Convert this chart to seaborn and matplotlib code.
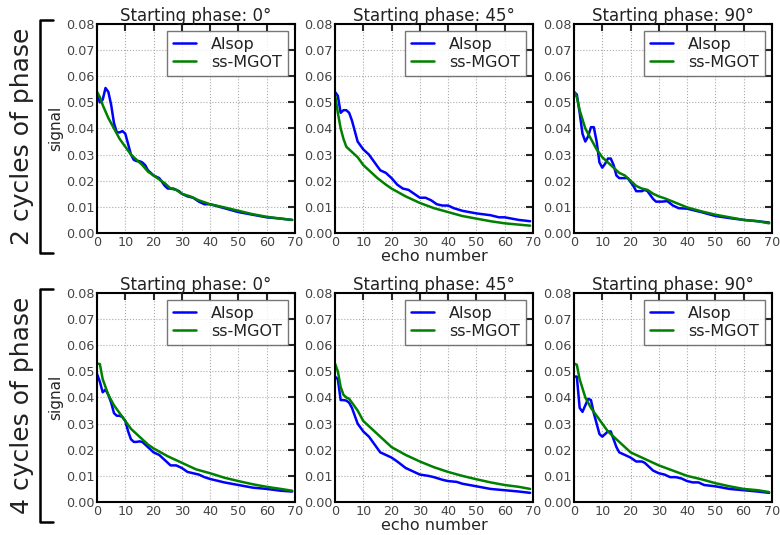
import numpy as np
import pandas as pd
import seaborn as sns
import matplotlib.pyplot as plt
from matplotlib.lines import Line2D

# donnees (echo, signal)
# 2 cycles, phase 0
c2_p0_alsop_x = [0, 1, 2, 3, 4, 5, 6, 7, 8, 9, 10, 11, 12, 13, 14, 15, 16, 17, 18, 20, 22, 24, 25, 27, 29, 30, 32, 34, 36, 38, 40, 45, 50, 55, 60, 65, 69]
c2_p0_alsop_y = [0.053, 0.050, 0.051, 0.0555, 0.054, 0.049, 0.042, 0.0385, 0.0385, 0.039, 0.038, 0.034, 0.030, 0.028, 0.0275, 0.0275, 0.027, 0.026, 0.024, 0.022, 0.021, 0.018, 0.017, 0.017, 0.016, 0.015, 0.014, 0.0135, 0.012, 0.011, 0.011, 0.0095, 0.008, 0.007, 0.006, 0.0055, 0.005]
c2_p0_mgot_x = [0, 1, 2, 4, 6, 8, 10, 12, 14, 16, 18, 20, 22, 24, 26, 28, 30, 33, 36, 40, 45, 50, 55, 60, 65, 69]
c2_p0_mgot_y = [0.054, 0.052, 0.049, 0.044, 0.040, 0.036, 0.033, 0.030, 0.028, 0.026, 0.0235, 0.022, 0.0205, 0.019, 0.017, 0.0165, 0.015, 0.014, 0.0125, 0.011, 0.0098, 0.0085, 0.0072, 0.0062, 0.0055, 0.005]

# 2 cycles, phase 45
c2_p45_alsop_x = [0, 1, 2, 3, 4, 5, 6, 7, 8, 10, 12, 14, 16, 18, 20, 22, 24, 26, 28, 30, 32, 34, 36, 38, 40, 42, 45, 50, 55, 58, 60, 65, 69]
c2_p45_alsop_y = [0.054, 0.0525, 0.046, 0.047, 0.047, 0.046, 0.043, 0.039, 0.035, 0.032, 0.030, 0.027, 0.024, 0.023, 0.021, 0.0185, 0.017, 0.0165, 0.015, 0.0135, 0.0135, 0.0125, 0.011, 0.0105, 0.0105, 0.0095, 0.0085, 0.0075, 0.0068, 0.006, 0.006, 0.005, 0.0045]
c2_p45_mgot_x = [0, 1, 2, 3, 4, 6, 8, 10, 12, 15, 18, 20, 25, 30, 35, 40, 45, 50, 55, 60, 65, 69]
c2_p45_mgot_y = [0.053, 0.046, 0.040, 0.036, 0.033, 0.031, 0.029, 0.026, 0.024, 0.021, 0.0185, 0.017, 0.014, 0.0115, 0.0095, 0.008, 0.0065, 0.0055, 0.0045, 0.0037, 0.0032, 0.0028]

# 2 cycles, phase 90
c2_p90_alsop_x = [0, 1, 2, 3, 4, 5, 6, 7, 8, 9, 10, 11, 12, 13, 14, 15, 16, 18, 19, 21, 22, 24, 25, 26, 28, 29, 31, 33, 35, 37, 40, 45, 50, 55, 60, 65, 69]
c2_p90_alsop_y = [0.054, 0.053, 0.046, 0.038, 0.035, 0.037, 0.0405, 0.0405, 0.035, 0.027, 0.025, 0.0265, 0.0285, 0.0285, 0.026, 0.022, 0.021, 0.021, 0.021, 0.018, 0.016, 0.016, 0.0165, 0.016, 0.013, 0.012, 0.012, 0.0122, 0.0105, 0.0095, 0.0093, 0.008, 0.0065, 0.0057, 0.005, 0.0045, 0.004]
c2_p90_mgot_x = [0, 1, 2, 4, 6, 8, 10, 12, 14, 16, 18, 20, 22, 24, 26, 28, 30, 32, 35, 40, 45, 50, 55, 60, 65, 69]
c2_p90_mgot_y = [0.054, 0.052, 0.047, 0.040, 0.036, 0.032, 0.029, 0.027, 0.025, 0.023, 0.022, 0.020, 0.018, 0.017, 0.0165, 0.015, 0.014, 0.0133, 0.012, 0.0098, 0.0083, 0.007, 0.006, 0.005, 0.0045, 0.0037]

# 4 cycles, phase 0
c4_p0_alsop_x = [0, 1, 2, 3, 4, 5, 6, 7, 8, 9, 10, 11, 12, 13, 14, 15, 16, 18, 20, 22, 24, 26, 28, 30, 32, 34, 36, 38, 40, 45, 50, 55, 60, 65, 69]
c4_p0_alsop_y = [0.049, 0.046, 0.042, 0.043, 0.041, 0.038, 0.034, 0.033, 0.033, 0.0325, 0.031, 0.027, 0.024, 0.023, 0.023, 0.0232, 0.023, 0.021, 0.019, 0.018, 0.016, 0.014, 0.014, 0.013, 0.0115, 0.011, 0.0105, 0.0095, 0.0088, 0.0075, 0.0065, 0.0055, 0.005, 0.0043, 0.004]
c4_p0_mgot_x = [0, 1, 2, 4, 6, 8, 10, 12, 15, 18, 20, 25, 30, 35, 40, 45, 50, 55, 60, 65, 69]
c4_p0_mgot_y = [0.053, 0.0528, 0.047, 0.041, 0.037, 0.034, 0.031, 0.028, 0.025, 0.022, 0.0205, 0.0175, 0.015, 0.0125, 0.011, 0.0093, 0.008, 0.0068, 0.0058, 0.005, 0.0043]

# 4 cycles, phase 45
c4_p45_alsop_x = [0, 1, 2, 3, 4, 5, 6, 7, 8, 10, 12, 14, 16, 18, 20, 22, 25, 28, 30, 33, 35, 38, 40, 43, 45, 50, 55, 60, 65, 69]
c4_p45_alsop_y = [0.048, 0.047, 0.039, 0.039, 0.0388, 0.038, 0.036, 0.033, 0.030, 0.027, 0.025, 0.022, 0.019, 0.018, 0.017, 0.0155, 0.013, 0.0115, 0.0105, 0.010, 0.0095, 0.0085, 0.008, 0.0077, 0.007, 0.006, 0.005, 0.0045, 0.004, 0.0035]
c4_p45_mgot_x = [0, 1, 2, 3, 4, 5, 6, 8, 10, 12, 15, 18, 20, 25, 30, 35, 40, 45, 50, 55, 60, 65, 69]
c4_p45_mgot_y = [0.053, 0.050, 0.044, 0.041, 0.040, 0.0395, 0.038, 0.035, 0.031, 0.029, 0.026, 0.023, 0.021, 0.018, 0.0155, 0.0133, 0.0115, 0.010, 0.0087, 0.0075, 0.0065, 0.0058, 0.005]

# 4 cycles, phase 90
c4_p90_alsop_x = [0, 1, 2, 3, 4, 5, 6, 7, 8, 9, 10, 11, 12, 13, 14, 15, 16, 18, 20, 22, 24, 25, 27, 28, 30, 32, 34, 36, 38, 40, 42, 44, 46, 50, 55, 60, 65, 69]
c4_p90_alsop_y = [0.048, 0.048, 0.036, 0.0345, 0.037, 0.0395, 0.039, 0.034, 0.030, 0.026, 0.025, 0.026, 0.027, 0.027, 0.024, 0.021, 0.019, 0.018, 0.017, 0.0155, 0.0155, 0.015, 0.013, 0.012, 0.011, 0.0105, 0.0095, 0.0095, 0.009, 0.008, 0.0075, 0.0075, 0.0065, 0.006, 0.005, 0.0045, 0.004, 0.0035]
c4_p90_mgot_x = [0, 1, 2, 4, 6, 8, 10, 12, 15, 18, 20, 25, 30, 35, 40, 45, 50, 55, 60, 65, 69]
c4_p90_mgot_y = [0.053, 0.0525, 0.047, 0.040, 0.036, 0.033, 0.030, 0.027, 0.024, 0.021, 0.019, 0.0165, 0.014, 0.012, 0.010, 0.0087, 0.0072, 0.006, 0.005, 0.0045, 0.0038]

row_labels = ["2 cycles of phase", "4 cycles of phase"]
phases = ["0°", "45°", "90°"]

panels = [
    [(c2_p0_alsop_x, c2_p0_alsop_y, c2_p0_mgot_x, c2_p0_mgot_y),
     (c2_p45_alsop_x, c2_p45_alsop_y, c2_p45_mgot_x, c2_p45_mgot_y),
     (c2_p90_alsop_x, c2_p90_alsop_y, c2_p90_mgot_x, c2_p90_mgot_y)],
    [(c4_p0_alsop_x, c4_p0_alsop_y, c4_p0_mgot_x, c4_p0_mgot_y),
     (c4_p45_alsop_x, c4_p45_alsop_y, c4_p45_mgot_x, c4_p45_mgot_y),
     (c4_p90_alsop_x, c4_p90_alsop_y, c4_p90_mgot_x, c4_p90_mgot_y)],
]

sns.set_style("whitegrid")
plt.rcParams['font.family'] = ['DejaVu Sans']
plt.rcParams['text.color'] = '#222222'

fig = plt.figure(figsize=(7.8, 5.35), dpi=100)

lefts = [0.1244, 0.4295, 0.7359]
bottoms = [0.5645, 0.0617]
w, h = 0.2538, 0.3907

for r in range(2):
    for c in range(3):
        ax = fig.add_axes([lefts[c], bottoms[r], w, h])
        ax_x, ax_y, mg_x, mg_y = panels[r][c]
        df = pd.concat([
            pd.DataFrame({'echo': ax_x, 'signal': ax_y, 'method': 'Alsop'}),
            pd.DataFrame({'echo': mg_x, 'signal': mg_y, 'method': 'ss-MGOT'}),
        ])
        sns.lineplot(data=df, x='echo', y='signal', hue='method',
                     palette={'Alsop': '#0000ff', 'ss-MGOT': '#008000'},
                     linewidth=1.8, ax=ax, legend=False, estimator=None, sort=False)
        ax.set_xlim(0, 70)
        ax.set_ylim(0, 0.08)
        ax.set_xticks(np.arange(0, 71, 10))
        ax.set_yticks(np.arange(0, 0.081, 0.01))
        ax.set_yticklabels([f"{v:.2f}" for v in np.arange(0, 0.081, 0.01)])
        ax.grid(True, linestyle=':', color='#aaaaaa', linewidth=0.8)
        for s in ax.spines.values():
            s.set_color('black')
            s.set_linewidth(1.5)
        ax.tick_params(direction='in', length=5, width=1.5, top=True, right=True,
                       labelsize=9.2, labelcolor='#444444', pad=2)
        ax.set_title("Starting phase: " + phases[c], fontsize=12, pad=2, color='#222222')
        ax.set_xlabel("echo number" if c == 1 else "", fontsize=11.5, labelpad=0)
        ax.set_ylabel("signal" if c == 0 else "", fontsize=11, labelpad=2)
        handles = [Line2D([], [], color='#0000ff', lw=1.8), Line2D([], [], color='#008000', lw=1.8)]
        leg = ax.legend(handles, ['Alsop', 'ss-MGOT'], loc='upper right', fontsize=11.5,
                        frameon=True, fancybox=False, borderaxespad=0.45,
                        handlelength=1.45, handletextpad=0.95, labelspacing=0.2,
                        borderpad=0.35)
        leg.get_frame().set_edgecolor('#555555')
        leg.get_frame().set_linewidth(1.0)

# crochets et titres de ligne
for r in range(2):
    top = bottoms[r] + h + 0.008
    bot = bottoms[r] - 0.038
    fig.add_artist(Line2D([0.068, 0.051, 0.051, 0.068], [top, top, bot, bot],
                          transform=fig.transFigure, color='black', lw=1.8))
    fig.text(0.028, (top + bot) / 2, row_labels[r], rotation=90, fontsize=18,
             ha='center', va='center', color='#222222')

plt.savefig('out.png', dpi=100)
